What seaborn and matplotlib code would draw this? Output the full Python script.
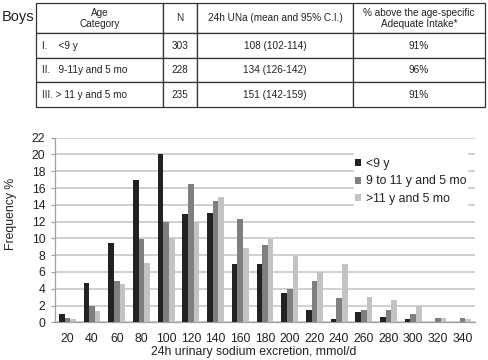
import numpy as np
import pandas as pd
import seaborn as sns
import matplotlib
matplotlib.use('Agg')
import matplotlib.pyplot as plt


# data
sodium_bins = ['20', '40', '60', '80', '100', '120', '140', '160', '180',
               '200', '220', '240', '260', '280', '300', '320', '340']
under_9 = [1.0, 4.7, 9.5, 16.9, 20.0, 12.9, 13.0, 6.9, 6.9,
           3.45, 1.45, 0.35, 1.2, 0.6, 0.35, 0.0, 0.0]
age_9_11 = [0.5, 2.0, 4.95, 9.9, 11.9, 16.5, 14.5, 12.3, 9.2,
            3.95, 4.95, 2.95, 1.45, 1.45, 1.0, 0.5, 0.5]
over_11 = [0.4, 1.4, 4.55, 7.1, 10.0, 12.0, 14.9, 8.9, 9.9,
           7.9, 5.95, 6.9, 3.0, 2.6, 2.0, 0.5, 0.35]
series_names = ['<9 y', '9 to 11 y and 5 mo', '>11 y and 5 mo']

# table contents
table_header = ['Age\nCategory', 'N', '24h UNa (mean and 95% C.I.)',
                '% above the age-specific\nAdequate Intake*']
table_rows = [['I.    <9 y', '303', '108 (102-114)', '91%'],
              ['II.   9-11y and 5 mo', '228', '134 (126-142)', '96%'],
              ['III. > 11 y and 5 mo', '235', '151 (142-159)', '91%']]

sns.set_style('white')
plt.rcParams['font.family'] = ['Liberation Sans', 'DejaVu Sans']

df = pd.DataFrame({
    'bin': sodium_bins * 3,
    'freq': under_9 + age_9_11 + over_11,
    'group': [series_names[0]] * 17 + [series_names[1]] * 17 + [series_names[2]] * 17,
})

fig = plt.figure(figsize=(4.88, 3.60), dpi=100)

# bar chart
ax = fig.add_axes([55 / 488, 1 - 322.3 / 360, 420 / 488, 184.6 / 360])
sns.barplot(data=df, x='bin', y='freq', hue='group', order=sodium_bins,
            hue_order=series_names, palette=['#222222', '#7f7f7f', '#c3c3c3'],
            width=0.68, saturation=1, linewidth=0, ax=ax, zorder=3)

ax.set_ylim(0, 22)
ax.set_xlim(-0.5, 16.5)
ax.set_yticks(np.arange(0, 23, 2))
ax.yaxis.grid(True, color='#c4c4c4', linewidth=1.1, zorder=0)
ax.set_axisbelow(True)
for s in ['top', 'right']:
    ax.spines[s].set_visible(False)
for s in ['left', 'bottom']:
    ax.spines[s].set_color('#a0a0a0')
    ax.spines[s].set_linewidth(0.9)

ax.set_xticks(np.arange(-0.5, 17, 1), minor=True)
ax.tick_params(axis='x', which='major', length=0, pad=7.5, labelsize=8.8, colors='#222222')
ax.tick_params(axis='x', which='minor', length=3, width=0.8, color='#a0a0a0', direction='out')
ax.tick_params(axis='y', length=3, width=0.8, color='#a0a0a0', pad=4, labelsize=8.8,
               labelcolor='#222222', left=True)

ax.set_xlabel('24h urinary sodium excretion, mmol/d', fontsize=8.8, color='#222222')
ax.xaxis.set_label_coords(0.472, -0.128)
ax.set_ylabel('Frequency %', fontsize=8.8, color='#222222')
ax.yaxis.set_label_coords(-0.09, 0.59)

leg = ax.legend(loc='upper left', bbox_to_anchor=(0.712, 0.988), title=' ',
                title_fontsize=8.8, fontsize=8.8, frameon=True, facecolor='white',
                edgecolor='white', framealpha=1, fancybox=False, borderpad=0.1,
                borderaxespad=0, handlelength=0.5, handleheight=0.5,
                handletextpad=0.35, labelspacing=0.42)
for t in leg.get_texts():
    t.set_color('#222222')

# table at the top
tax = fig.add_axes([35.7 / 488, 1 - 107 / 360, 449.3 / 488, 103.5 / 360])
tax.axis('off')
widths = [127.3, 34, 156, 132]
widths = [w / sum(widths) for w in widths]
tbl = tax.table(cellText=table_rows, colLabels=table_header, colWidths=widths,
                cellLoc='center', bbox=[0, 0, 1, 1])
tbl.auto_set_font_size(False)
tbl.set_fontsize(7.2)
for (r, c), cell in tbl.get_celld().items():
    cell.set_edgecolor('#333333')
    cell.set_linewidth(0.9)
    cell.set_height(0.29 if r == 0 else 0.24)
    cell.get_text().set_color('#222222')
    if r > 0 and c == 0:
        cell.PAD = 0.05
        cell.get_text().set_horizontalalignment('left')
        cell._loc = 'left'

fig.text(2 / 488, 1 - 17 / 360, 'Boys', ha='left', va='center',
         fontsize=10.5, color='#222222')

fig.savefig('out.png', dpi=100)
